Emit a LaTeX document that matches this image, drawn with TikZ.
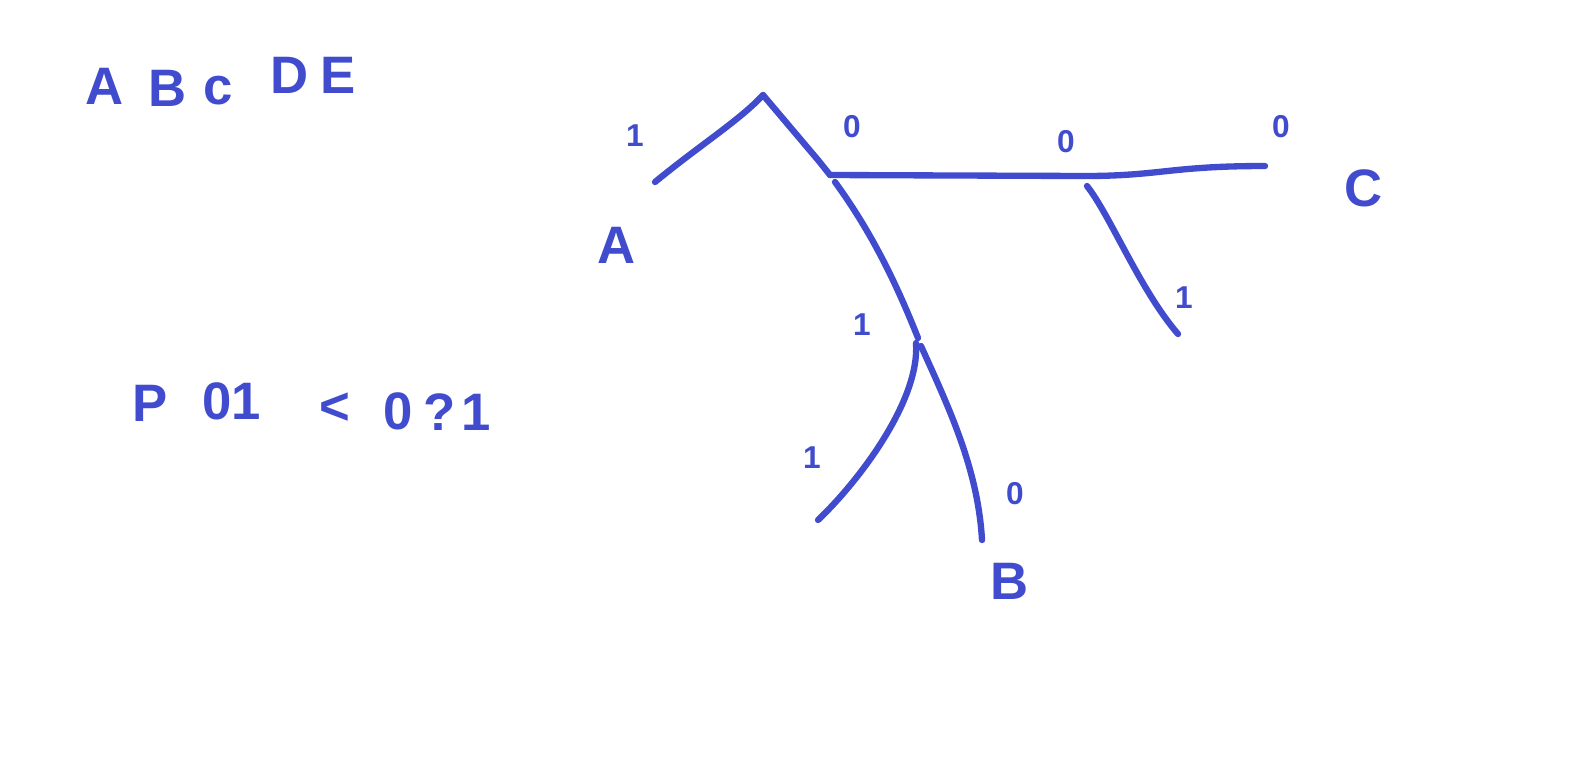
\documentclass[tikz,border=0pt]{standalone}
\usepackage{fontspec}
\setmainfont{Liberation Sans}
\definecolor{ink}{RGB}{64,75,206}
\begin{document}
\begin{tikzpicture}[x=0.02cm,y=-0.02cm,
  edge/.style={draw=ink,line width=3.6pt,line cap=round,line join=round},
  big/.style={text=ink,font=\fontsize{30}{32}\selectfont\bfseries,inner sep=0pt},
  lbl/.style={text=ink,font=\fontsize{18}{20}\selectfont\bfseries,inner sep=0pt}]
\useasboundingbox (0,0) rectangle (1575,772);
% tree points
\coordinate (root) at (763,95);
\coordinate (aend) at (655,182);
\coordinate (kink) at (818,160);
\coordinate (n1) at (830,175);
\coordinate (n1b) at (835,182);
\coordinate (n2) at (1085,176);
\coordinate (n2b) at (1087,186);
\coordinate (cend) at (1265,166);
\coordinate (rend) at (1178,334);
\coordinate (n3) at (918,338);
\coordinate (n3l) at (916,343);
\coordinate (n3r) at (921,346);
\coordinate (lend) at (818,520);
\coordinate (bend) at (982,540);
% edges
\draw[edge] (root) .. controls (740,120) and (700,145) .. (aend);
\draw[edge] (root) -- (kink) -- (n1);
\draw[edge] (n1) -- (n2);
\draw[edge] (n2) .. controls (1160,176) and (1170,166) .. (cend);
\draw[edge] (n2b) .. controls (1110,215) and (1140,290) .. (rend);
\draw[edge] (n1b) .. controls (870,230) and (895,280) .. (n3);
\draw[edge] (n3l) .. controls (920,400) and (860,480) .. (lend);
\draw[edge] (n3r) .. controls (950,410) and (978,470) .. (bend);
% leaves
\node[big] (la) at (617,245) {A};
\node[big] (lb) at (1010,581) {B};
\node[big] (lc) at (1364,188) {C};
% edge labels
\node[lbl] (e1) at (635,136) {1};
\node[lbl] (e2) at (852,127) {0};
\node[lbl] (e3) at (1066,142) {0};
\node[lbl] (e4) at (1281,127) {0};
\node[lbl] (e5) at (1184,298) {1};
\node[lbl] (e6) at (862,325) {1};
\node[lbl] (e7) at (812,458) {1};
\node[lbl] (e8) at (1015,494) {0};
% notes
\node[big] (t1) at (105,86) {A};
\node[big] (t2) at (168,88) {B};
\node[big] (t3) at (218,91) {c};
\node[big] (t4) at (290,75) {D};
\node[big] (t5) at (338,75) {E};
\node[big] (s1) at (150,403) {P};
\node[big] (s2) at (232,401) {01};
\node[big] (s3) at (335,409) {<};
\node[big] (s4) at (398,411) {0};
\node[big] (s5) at (440,412) {?};
\node[big] (s6) at (476,412) {1};
\end{tikzpicture}
\end{document}
